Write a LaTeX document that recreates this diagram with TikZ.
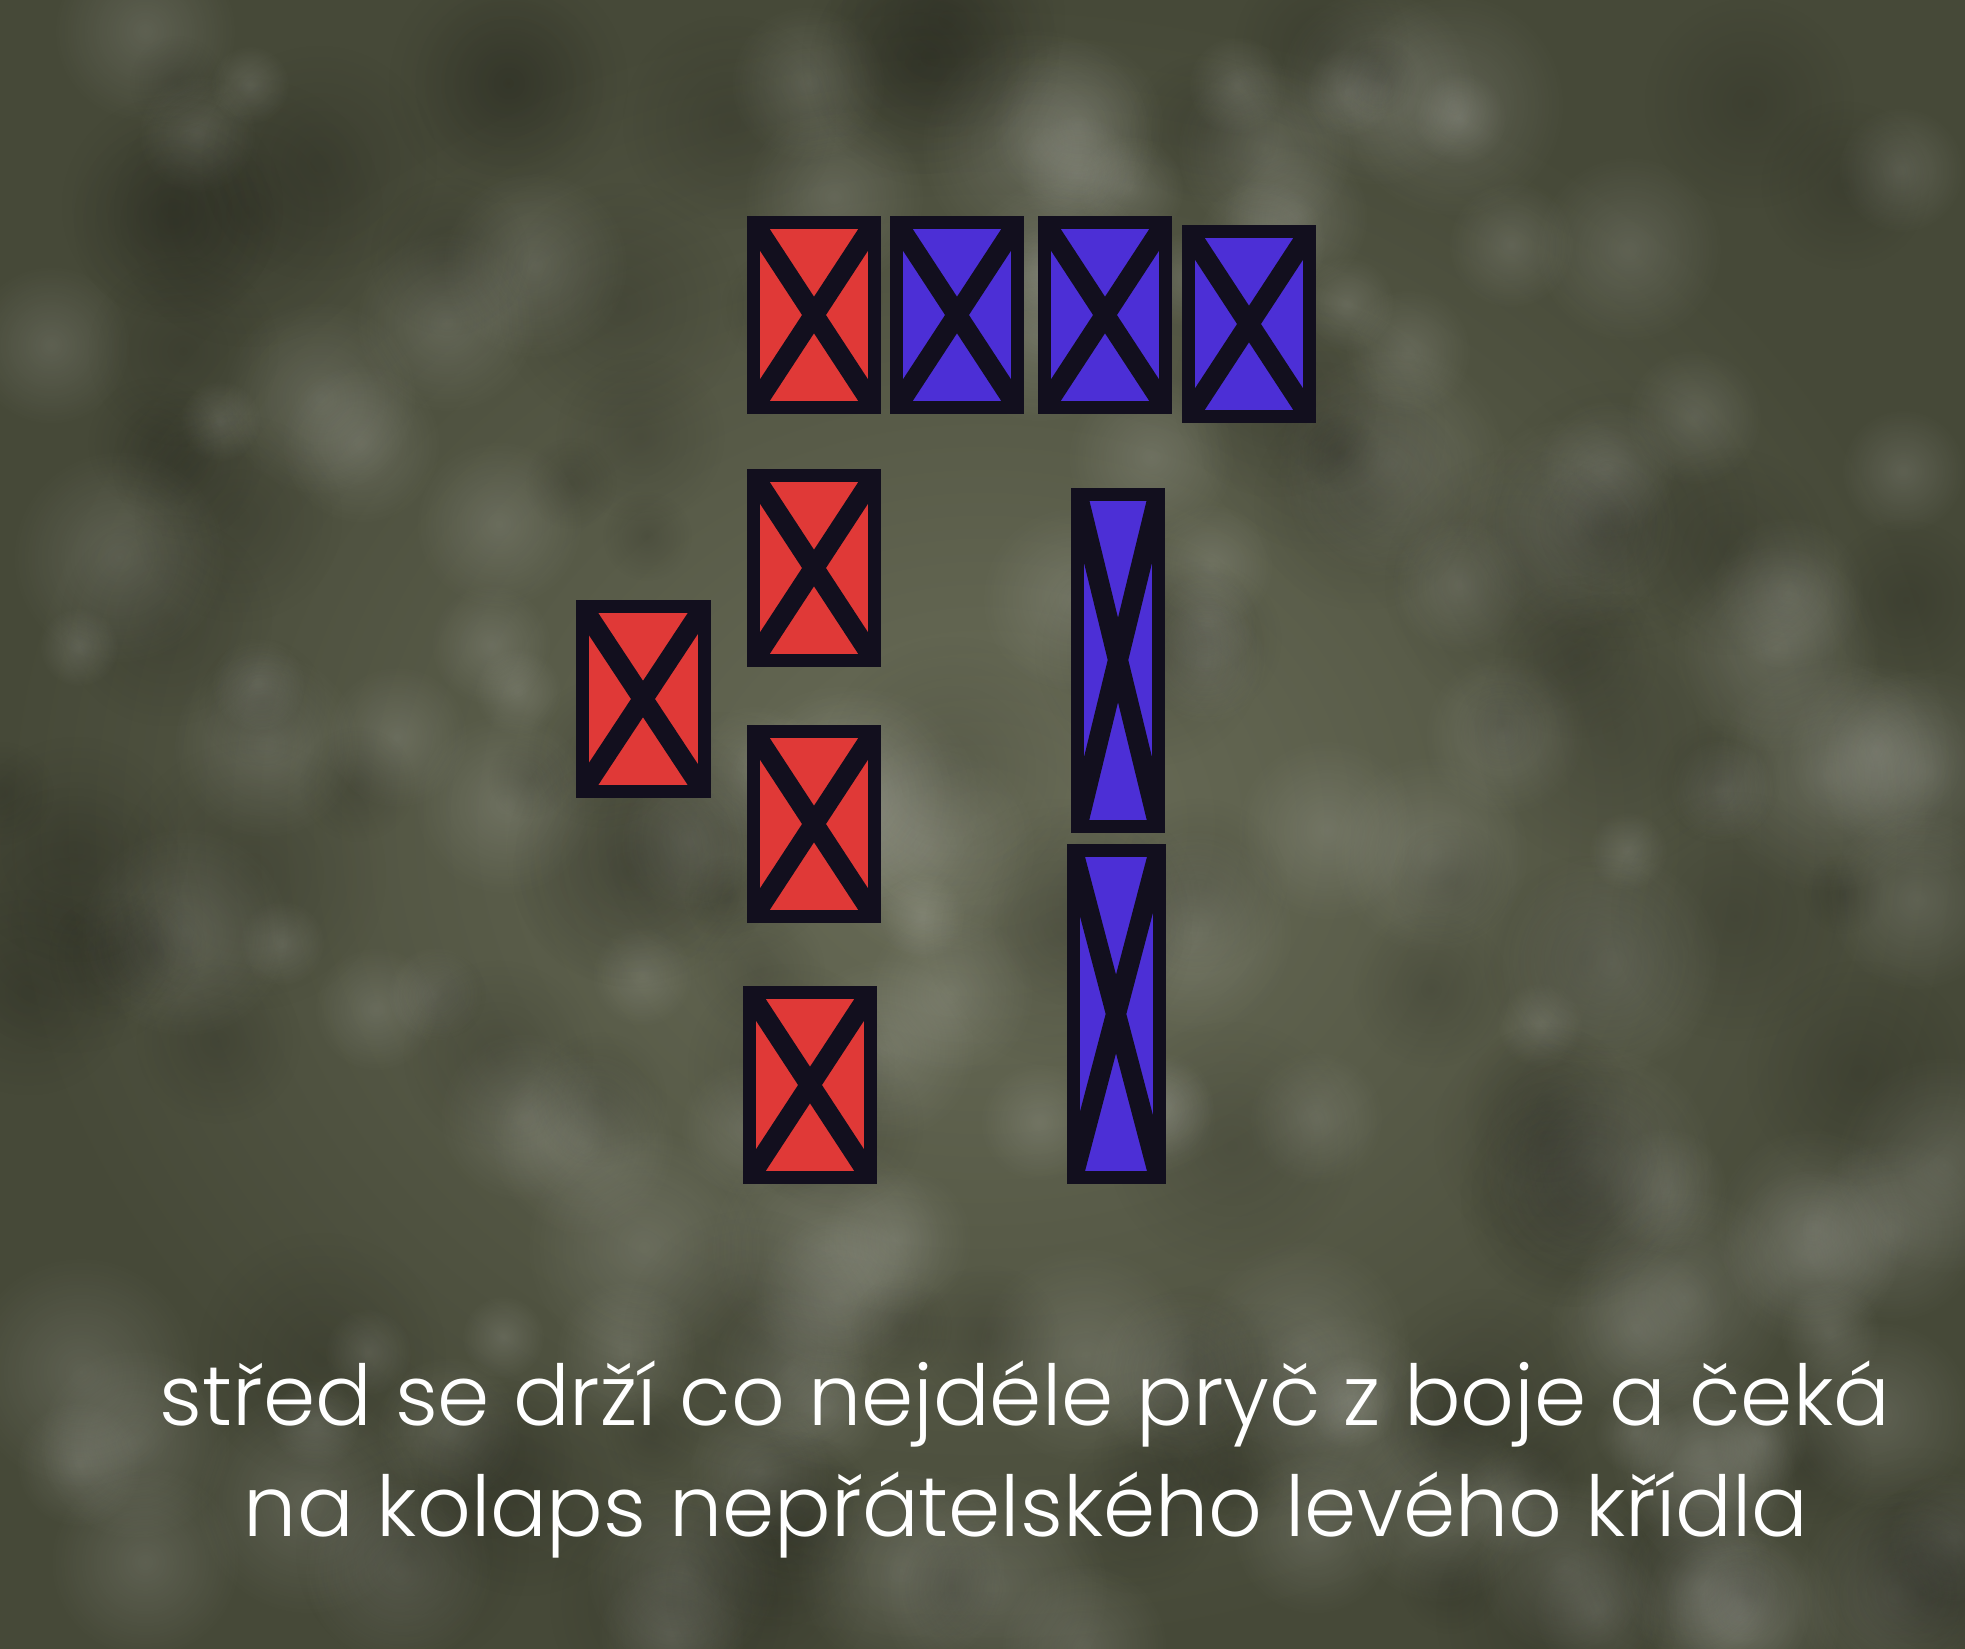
\documentclass[tikz,border=0pt]{standalone}
\usepackage{fontspec}
\usetikzlibrary{fadings}
\newfontfamily\capfont{Poppins Light}
\definecolor{redfill}{RGB}{224,57,55}
\definecolor{bluefill}{RGB}{76,47,214}
\definecolor{edge}{RGB}{18,15,30}
\definecolor{fieldlight}{RGB}{106,109,88}
\definecolor{fielddark}{RGB}{70,73,56}
\tikzfading[name=softblob, inner color=transparent!0, outer color=transparent!100]
\tikzset{
  unit/.style={draw=edge, line width=13pt, inner sep=0pt, outer sep=0pt,
    path picture={\draw[edge, line width=20pt]
      (path picture bounding box.north west) -- (path picture bounding box.south east)
      (path picture bounding box.north east) -- (path picture bounding box.south west);}},
  redunit/.style={unit, fill=redfill, minimum width=121pt, minimum height=185pt},
  blueunit/.style={unit, fill=bluefill, minimum width=121pt, minimum height=185pt},
  mottle/.style={path fading=softblob, fill opacity=0.13},
  caption/.style={text=white, anchor=base, inner sep=0pt,
    font=\capfont\fontsize{84}{100}\selectfont}
}
\begin{document}
\begin{tikzpicture}[x=1pt, y=-1pt]
  \useasboundingbox (0,0) rectangle (1965,1649);
  \shade[inner color=fieldlight, outer color=fielddark] (0,0) rectangle (1965,1649); % field
  \pgfmathsetseed{11}
  \foreach \i in {1,...,140}{
    \pgfmathsetmacro\bx{random(0,1965)}
    \pgfmathsetmacro\by{random(0,1649)}
    \pgfmathsetmacro\br{random(40,120)}
    \fill[white, mottle] (\bx,\by) circle (\br);
  }
  \foreach \i in {1,...,110}{
    \pgfmathsetmacro\bx{random(0,1965)}
    \pgfmathsetmacro\by{random(0,1649)}
    \pgfmathsetmacro\br{random(40,140)}
    \fill[black, mottle] (\bx,\by) circle (\br);
  }
  % top row
  \node[redunit] (redtop) at (814,315) {};
  \node[blueunit] (bluea) at (957,315) {};
  \node[blueunit] (blueb) at (1105,315) {};
  \node[blueunit] (bluec) at (1249,324) {};
  % centre
  \node[redunit] (redmid) at (814,568) {};
  \node[redunit, minimum width=122pt] (redleft) at (643,699) {};
  \node[redunit] (redlow) at (814,824) {};
  \node[redunit] (redrear) at (810,1085) {};
  % blue flank
  \node[blueunit, minimum width=81pt, minimum height=332pt] (bluetall) at (1118,660) {};
  \node[blueunit, minimum width=86pt, minimum height=327pt] (bluelong) at (1116,1014) {};
  % caption
  \node[caption] (capone) at (1025,1425) {střed se drží co nejdéle pryč z boje a čeká};
  \node[caption] (captwo) at (1026,1536) {na kolaps nepřátelského levého křídla};
\end{tikzpicture}
\end{document}
